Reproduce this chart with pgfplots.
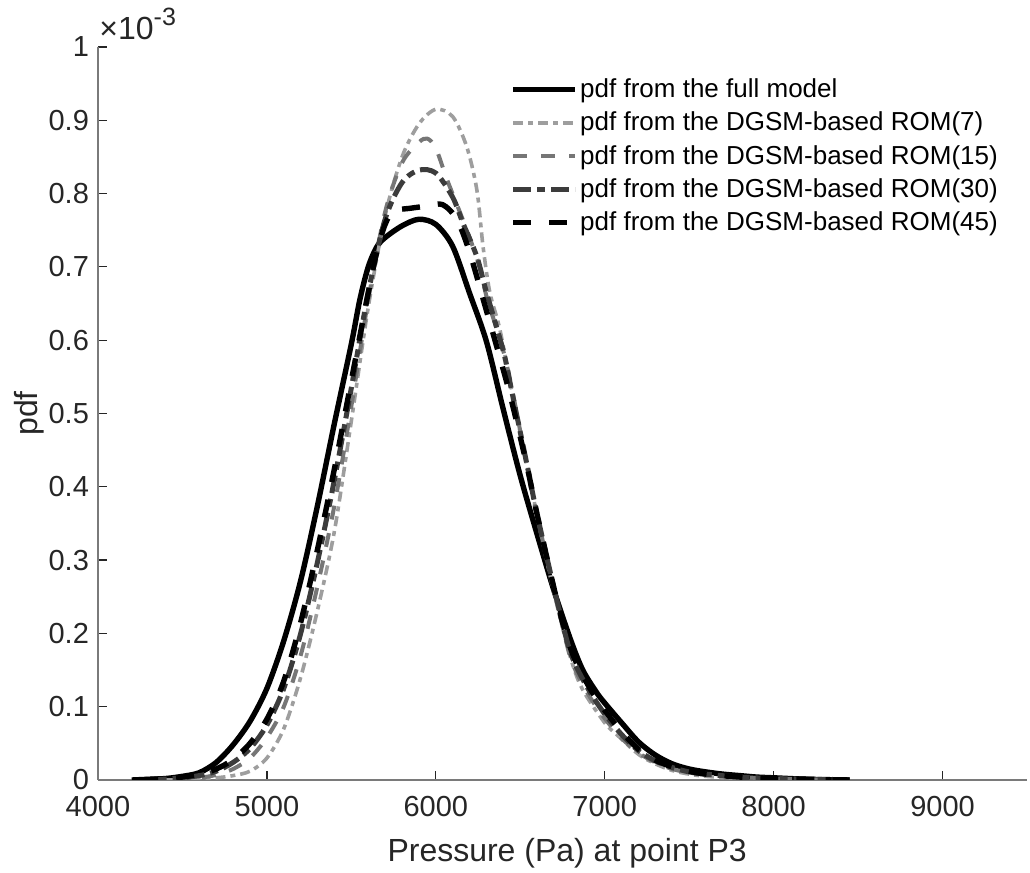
\documentclass[border=0pt]{standalone}
\usepackage{pgfplots}
\pgfplotsset{compat=1.18}
\usepackage{pgfplotstable}
\usepackage{fontspec}
\setmainfont{Liberation Sans}
\definecolor{romA}{HTML}{9E9E9E}
\definecolor{romB}{HTML}{767676}
\definecolor{romC}{HTML}{3C3C3C}
\definecolor{axgray}{HTML}{7A7A7A}
\definecolor{txt}{HTML}{262626}

\pgfplotstableread{
x y
4200 0
4300 0.001
4400 0.002
4500 0.005
4600 0.010
4700 0.024
4800 0.048
4900 0.080
5000 0.125
5100 0.190
5200 0.272
5300 0.375
5400 0.487
5500 0.595
5550 0.655
5600 0.700
5650 0.727
5700 0.740
5800 0.756
5900 0.765
6000 0.758
6100 0.728
6200 0.664
6300 0.598
6400 0.505
6500 0.415
6600 0.335
6700 0.258
6800 0.190
6870 0.150
6950 0.120
7000 0.105
7100 0.078
7200 0.052
7300 0.034
7400 0.022
7500 0.015
7600 0.011
7700 0.008
7800 0.006
7900 0.004
8000 0.003
8200 0.001
8450 0
}\fullmodel

\pgfplotstableread{
x y
4400 0
4550 0.001
4700 0.003
4800 0.006
4900 0.012
5000 0.030
5100 0.070
5200 0.140
5300 0.232
5400 0.340
5500 0.490
5600 0.645
5700 0.770
5800 0.850
5900 0.895
6000 0.915
6100 0.905
6183 0.864
6243 0.805
6280 0.727
6320 0.665
6380 0.614
6456 0.523
6540 0.430
6600 0.360
6700 0.255
6800 0.165
6870 0.123
7000 0.078
7071 0.062
7200 0.035
7300 0.022
7400 0.013
7500 0.008
7600 0.005
7800 0.002
8100 0
}\romseven

\pgfplotstableread{
x y
4450 0
4600 0.003
4700 0.007
4800 0.015
4900 0.030
5000 0.058
5100 0.100
5200 0.170
5300 0.265
5400 0.375
5500 0.510
5600 0.655
5700 0.775
5800 0.842
5900 0.870
5950 0.875
6000 0.862
6065 0.820
6142 0.775
6200 0.740
6260 0.700
6300 0.660
6400 0.585
6460 0.523
6540 0.428
6600 0.360
6716 0.244
6800 0.165
6900 0.118
7000 0.084
7100 0.057
7200 0.037
7300 0.024
7400 0.015
7500 0.010
7600 0.007
7800 0.004
8000 0.002
8450 0
}\romfifteen

\pgfplotstableread{
x y
4300 0
4450 0.002
4600 0.006
4700 0.012
4800 0.024
4900 0.043
5000 0.075
5100 0.125
5200 0.200
5300 0.298
5400 0.410
5500 0.535
5600 0.665
5700 0.765
5800 0.815
5900 0.832
6000 0.828
6100 0.795
6160 0.760
6243 0.714
6300 0.665
6400 0.585
6450 0.530
6540 0.430
6600 0.362
6716 0.246
6800 0.172
6900 0.125
7000 0.090
7100 0.062
7200 0.040
7300 0.026
7400 0.017
7500 0.011
7600 0.008
7800 0.004
8000 0.002
8450 0
}\romthirty

\pgfplotstableread{
x y
4250 0
4400 0.002
4500 0.004
4600 0.008
4700 0.015
4800 0.028
4900 0.050
5000 0.083
5100 0.135
5200 0.215
5300 0.315
5400 0.425
5500 0.545
5600 0.665
5650 0.720
5700 0.758
5750 0.776
5850 0.780
5950 0.783
6040 0.785
6124 0.765
6200 0.720
6300 0.640
6350 0.600
6440 0.525
6540 0.428
6600 0.362
6716 0.246
6800 0.178
6900 0.130
7000 0.095
7100 0.066
7200 0.042
7300 0.027
7400 0.018
7500 0.012
7600 0.008
7800 0.004
8000 0.002
8450 0
}\romfortyfive

\begin{document}
\begin{tikzpicture}
\path[use as bounding box] (-49pt,-46.5pt) rectangle (466pt,390pt);
\begin{axis}[
  scale only axis,
  width=464.5pt, height=366.5pt,
  xmin=4000, xmax=9500, ymin=0, ymax=1,
  axis x line*=bottom, axis y line*=left,
  axis line style={draw=axgray, line width=0.6pt, -},
  tick align=inside,
  major tick length=4.5pt,
  tick style={draw=txt, line width=0.6pt},
  xtick={4000,5000,6000,7000,8000,9000},
  ytick={0,0.1,0.2,0.3,0.4,0.5,0.6,0.7,0.8,0.9,1},
  yticklabels={0,0.1,0.2,0.3,0.4,0.5,0.6,0.7,0.8,0.9,1},
  scaled ticks=false,
  /pgf/number format/assume math mode=true,
  /pgf/number format/1000 sep={},
  ticklabel style={font=\fontsize{14.5}{17}\selectfont, text=txt},
  xticklabel style={yshift=-4.5pt},
  yticklabel style={xshift=-1pt},
  xlabel={Pressure (Pa) at point P3},
  ylabel={pdf},
  label style={font=\fontsize{16}{19}\selectfont, text=txt},
  xlabel style={at={(axis description cs:0.505,-0.079)}, anchor=north, inner sep=0pt},
  ylabel style={at={(axis description cs:-0.058,0.5)}, anchor=south, inner sep=0pt},
  legend style={at={(axis description cs:0.4435,0.9605)}, anchor=north west,
    draw=none, fill=none, font=\fontsize{13}{15}\selectfont, text=black,
    row sep=3.3pt, inner sep=0pt, nodes={inner sep=1.2pt}},
  legend cell align=left,
  legend image code/.code={\draw[#1] (0pt,0pt) -- (31pt,0pt);},
  every axis plot/.append style={line cap=butt, line join=round},
  clip=true,
]
\addplot[black, line width=2.7pt, smooth, tension=0.5] table {\fullmodel};
\addlegendentry{pdf from the full model}
\addplot[romA, line width=1.8pt, smooth, tension=0.5, dash pattern=on 5pt off 2.5pt on 2.5pt off 2.5pt] table {\romseven};
\addlegendentry{pdf from the DGSM-based ROM(7)}
\addplot[romB, line width=2pt, smooth, tension=0.5, dash pattern=on 7pt off 7pt] table {\romfifteen};
\addlegendentry{pdf from the DGSM-based ROM(15)}
\addplot[romC, line width=2.5pt, smooth, tension=0.5, dash pattern=on 9pt off 3pt on 4pt off 3pt] table {\romthirty};
\addlegendentry{pdf from the DGSM-based ROM(30)}
\addplot[black, line width=2.7pt, smooth, tension=0.5, dash pattern=on 9pt off 9pt] table {\romfortyfive};
\addlegendentry{pdf from the DGSM-based ROM(45)}
\end{axis}
\node[anchor=base west, inner sep=0pt, font=\fontsize{16}{18}\selectfont, text=txt] at (0.5pt,370pt) {×10\raisebox{7pt}{\fontsize{12.5}{14}\selectfont -3}};
\end{tikzpicture}
\end{document}
